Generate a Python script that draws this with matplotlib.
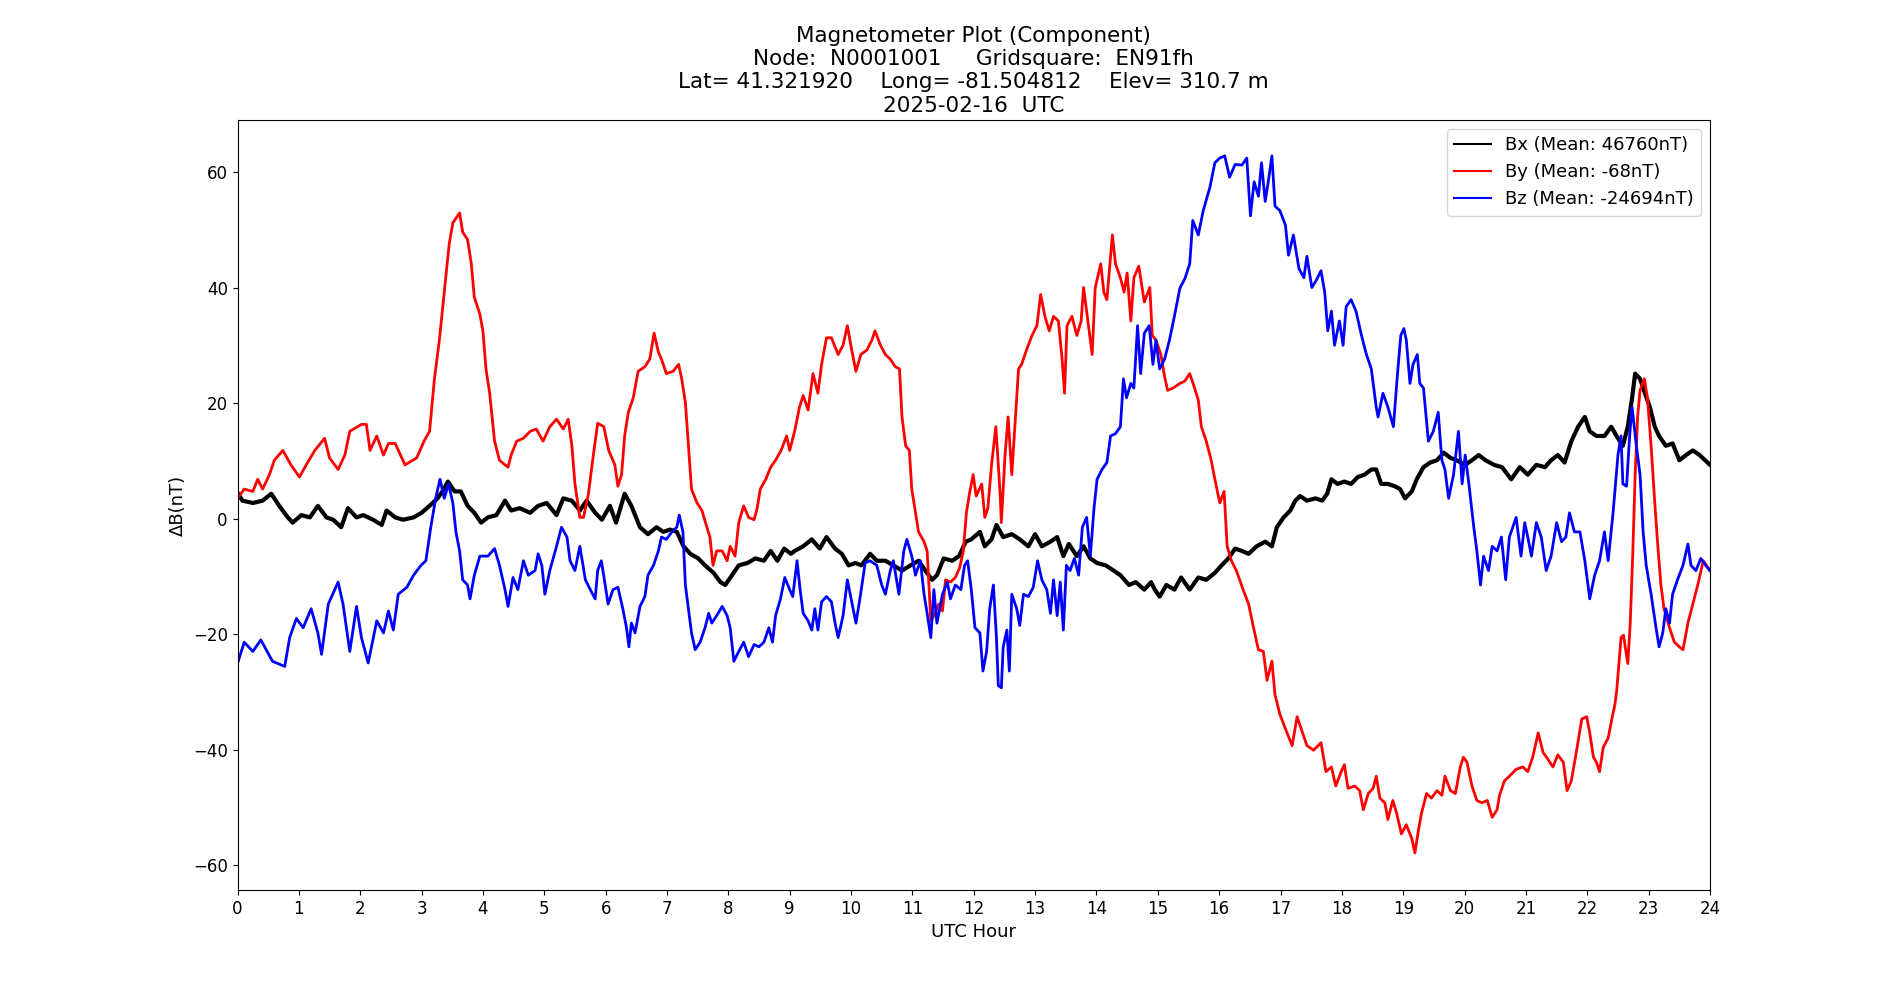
"""Магнитометр: три компоненты поля за сутки (Bx, By, Bz) в нТл относительно среднего."""

import matplotlib

matplotlib.use("Agg")
import matplotlib.pyplot as plt

# Значения: час UTC -> отклонение от среднего, нТл.
BX_HOURS = [0.0, 0.08, 0.25, 0.41, 0.55, 0.68, 0.82, 0.9, 1.04, 1.18, 1.31, 1.45, 1.56, 1.69, 1.8, 1.94,
            2.05, 2.21, 2.35, 2.43, 2.57, 2.7, 2.87, 3.0, 3.13, 3.26, 3.34, 3.43, 3.54, 3.64, 3.75, 3.86,
            3.97, 4.08, 4.22, 4.36, 4.46, 4.6, 4.77, 4.9, 5.04, 5.2, 5.31, 5.45, 5.58, 5.69, 5.83, 5.94,
            6.07, 6.17, 6.31, 6.42, 6.56, 6.69, 6.83, 6.94, 7.05, 7.16, 7.27, 7.38, 7.51, 7.62, 7.76, 7.87,
            7.95, 8.06, 8.17, 8.31, 8.44, 8.58, 8.69, 8.8, 8.91, 9.02, 9.08, 9.22, 9.36, 9.49, 9.6, 9.74,
            9.85, 9.96, 10.07, 10.17, 10.31, 10.42, 10.56, 10.69, 10.83, 10.97, 11.1, 11.21, 11.32, 11.4,
            11.51, 11.65, 11.76, 11.87, 11.96, 12.1, 12.18, 12.29, 12.37, 12.48, 12.62, 12.75, 12.89, 13.0,
            13.11, 13.25, 13.36, 13.46, 13.55, 13.68, 13.79, 13.9, 14.01, 14.15, 14.28, 14.39, 14.53, 14.64,
            14.78, 14.89, 14.95, 15.03, 15.14, 15.27, 15.38, 15.52, 15.66, 15.79, 15.93, 16.04, 16.15, 16.26,
            16.37, 16.48, 16.61, 16.75, 16.86, 16.94, 17.05, 17.16, 17.24, 17.32, 17.43, 17.57, 17.68, 17.76,
            17.83, 17.93, 18.04, 18.15, 18.26, 18.37, 18.48, 18.56, 18.64, 18.75, 18.86, 18.95, 19.03, 19.14,
            19.22, 19.33, 19.44, 19.55, 19.66, 19.77, 19.87, 20.01, 20.12, 20.23, 20.34, 20.48, 20.61, 20.76,
            20.9, 21.03, 21.17, 21.31, 21.41, 21.52, 21.63, 21.74, 21.85, 21.96, 22.04, 22.15, 22.28, 22.39,
            22.5, 22.58, 22.66, 22.73, 22.78, 22.86, 22.94, 23.02, 23.1, 23.17, 23.28, 23.39, 23.5, 23.61,
            23.72, 23.83, 24.0]
BX_VALUES = [4.5, 3.1, 2.7, 3.1, 4.3, 2.2, 0.2, -0.7, 0.6, 0.2, 2.2, 0.2, -0.2, -1.5, 1.8, 0.2,
             0.6, -0.2, -1.1, 1.4, 0.2, -0.2, 0.2, 1.0, 2.2, 3.5, 4.7, 6.4, 4.7, 4.7, 2.2, 1.0,
             -0.7, 0.2, 0.6, 3.1, 1.4, 1.8, 1.0, 2.2, 2.7, 0.6, 3.5, 3.1, 1.4, 3.1, 1.0, -0.2,
             2.2, -0.7, 4.3, 2.2, -1.5, -2.7, -1.5, -2.3, -1.9, -2.3, -4.8, -6.1, -6.9, -8.1, -9.4, -11.0,
             -11.5, -9.8, -8.1, -7.7, -6.9, -7.3, -5.6, -7.3, -5.2, -6.1, -5.6, -4.8, -3.6, -5.2, -3.2, -5.2,
             -6.1, -8.1, -7.7, -8.1, -6.1, -7.3, -7.3, -8.1, -9.0, -8.1, -7.3, -9.0, -10.6, -9.8,
             -6.9, -7.3, -6.5, -4.0, -3.6, -2.3, -4.8, -3.6, -1.1, -3.2, -2.7, -3.6, -4.8, -2.7,
             -4.8, -4.0, -3.2, -6.5, -4.4, -6.5, -4.8, -6.9, -7.7, -8.1, -9.0, -9.8, -11.5, -11.0,
             -12.3, -11.0, -12.3, -13.5, -11.5, -12.3, -10.2, -12.3, -10.2, -10.6, -9.4, -8.1, -6.9, -5.2,
             -5.6, -6.1, -4.8, -4.0, -4.8, -1.5, 0.2, 1.4, 3.1, 3.9, 3.1, 3.5, 3.1, 4.3,
             6.8, 6.0, 6.4, 6.0, 7.2, 7.6, 8.5, 8.5, 6.0, 6.0, 5.6, 5.1, 3.5, 4.7,
             6.8, 8.9, 9.7, 10.1, 11.4, 10.5, 10.1, 9.3, 10.1, 11.0, 10.1, 9.3, 8.9, 6.8,
             8.9, 7.6, 9.3, 8.9, 10.1, 11.0, 9.7, 13.4, 15.9, 17.6, 15.1, 14.3, 14.3, 15.9,
             13.9, 12.6, 15.9, 20.9, 25.1, 24.2, 21.7, 19.3, 15.9, 14.3, 12.6, 13.0, 10.1, 11.0,
             11.8, 11.0, 9.3]

BY_HOURS = [0.0, 0.11, 0.25, 0.33, 0.41, 0.52, 0.6, 0.74, 0.87, 1.01, 1.12, 1.26, 1.42, 1.5, 1.64, 1.75,
            1.83, 2.02, 2.1, 2.16, 2.27, 2.38, 2.46, 2.57, 2.73, 2.92, 3.04, 3.13, 3.21, 3.29, 3.37, 3.45,
            3.51, 3.62, 3.67, 3.75, 3.81, 3.86, 3.95, 4.0, 4.05, 4.11, 4.19, 4.27, 4.36, 4.41, 4.46, 4.55,
            4.66, 4.77, 4.87, 4.98, 5.09, 5.2, 5.31, 5.39, 5.45, 5.5, 5.58, 5.64, 5.72, 5.8, 5.87, 5.97,
            6.05, 6.15, 6.2, 6.26, 6.31, 6.37, 6.45, 6.53, 6.64, 6.72, 6.79, 6.86, 6.91, 6.99, 7.1, 7.19,
            7.24, 7.3, 7.35, 7.4, 7.49, 7.57, 7.65, 7.7, 7.75, 7.81, 7.9, 7.98, 8.03, 8.11, 8.17, 8.25,
            8.33, 8.42, 8.47, 8.52, 8.61, 8.69, 8.77, 8.86, 8.95, 9.0, 9.08, 9.16, 9.22, 9.3, 9.38, 9.46,
            9.52, 9.6, 9.68, 9.79, 9.87, 9.94, 10.01, 10.08, 10.16, 10.26, 10.34, 10.39, 10.48, 10.56,
            10.64, 10.72, 10.79, 10.83, 10.89, 10.95, 10.99, 11.05, 11.1, 11.19, 11.24, 11.3, 11.35, 11.43,
            11.49, 11.54, 11.62, 11.7, 11.77, 11.83, 11.88, 11.93, 11.99, 12.04, 12.13, 12.18, 12.23, 12.29,
            12.36, 12.43, 12.45, 12.51, 12.56, 12.62, 12.67, 12.73, 12.78, 12.86, 12.95, 13.03, 13.09, 13.16,
            13.23, 13.3, 13.38, 13.44, 13.48, 13.52, 13.6, 13.68, 13.75, 13.79, 13.86, 13.93, 13.98, 14.07,
            14.12, 14.17, 14.26, 14.31, 14.39, 14.45, 14.5, 14.56, 14.61, 14.69, 14.78, 14.84, 14.87, 14.91,
            14.97, 15.05, 15.11, 15.16, 15.25, 15.36, 15.44, 15.52, 15.6, 15.66, 15.71, 15.79, 15.87, 15.93,
            16.01, 16.08, 16.13, 16.2, 16.28, 16.39, 16.48, 16.56, 16.64, 16.72, 16.78, 16.86, 16.91, 16.99,
            17.08, 17.19, 17.27, 17.35, 17.43, 17.54, 17.66, 17.74, 17.83, 17.9, 17.99, 18.04, 18.1, 18.21,
            18.29, 18.35, 18.43, 18.51, 18.56, 18.62, 18.7, 18.75, 18.83, 18.89, 18.97, 19.05, 19.14, 19.19,
            19.25, 19.3, 19.38, 19.46, 19.55, 19.63, 19.68, 19.77, 19.85, 19.93, 19.98, 20.04, 20.12, 20.2,
            20.28, 20.37, 20.45, 20.53, 20.57, 20.65, 20.73, 20.84, 20.95, 21.03, 21.11, 21.2, 21.28, 21.36,
            21.44, 21.52, 21.61, 21.67, 21.74, 21.82, 21.91, 21.99, 22.04, 22.1, 22.15, 22.2, 22.26, 22.34,
            22.4, 22.45, 22.48, 22.55, 22.59, 22.63, 22.66, 22.7, 22.74, 22.78, 22.82, 22.86, 22.93, 22.98,
            23.04, 23.1, 23.15, 23.2, 23.25, 23.34, 23.42, 23.5, 23.56, 23.64, 23.72, 23.8, 23.89, 24.0]
BY_VALUES = [3.5, 5.1, 4.7, 6.8, 5.1, 7.6, 10.1, 11.8, 9.3, 7.2, 9.3, 11.8, 13.9, 10.5, 8.5, 11.0,
             15.1, 16.3, 16.3, 11.8, 14.3, 11.0, 13.0, 13.0, 9.3, 10.5, 13.4, 15.1, 24.2, 30.9, 39.2, 47.5,
             51.2, 52.9, 49.6, 48.3, 44.2, 38.3, 35.4, 32.5, 25.9, 21.7, 13.4, 10.1, 9.3, 8.9, 11.0, 13.4,
             13.9, 15.1, 15.5, 13.4, 15.9, 17.2, 15.5, 17.2, 12.6, 6.0, 0.2, 0.2, 4.3, 11.0, 16.5, 15.9,
             11.8, 9.3, 5.6, 7.6, 14.3, 18.4, 20.9, 25.5, 26.3, 27.6, 32.1, 28.8, 27.6, 25.1, 25.5, 26.7,
             24.2, 20.1, 12.6, 5.1, 2.7, 1.4, -1.5, -3.2, -8.1, -5.6, -5.6, -7.3, -4.8, -6.5, -0.7, 2.2,
             0.2, -0.2, 1.8, 5.1, 6.8, 8.9, 10.1, 11.8, 14.3, 11.8, 15.1, 19.3, 21.3, 18.8, 25.1, 21.7,
             26.7, 31.3, 31.3, 28.4, 30.0, 33.4, 29.2, 25.5, 28.4, 29.2, 30.9, 32.5, 30.0, 28.4,
             27.6, 26.3, 25.9, 17.6, 12.6, 11.8, 5.1, 1.0, -2.3, -4.0, -5.6, -17.7, -16.8, -14.8,
             -16.0, -10.6, -11.0, -10.2, -8.5, -5.6, 1.0, 4.3, 7.6, 3.9, 6.0, 0.2, 1.8, 9.3,
             15.9, 4.3, -0.7, 11.0, 17.6, 7.6, 15.9, 25.9, 26.7, 29.2, 31.7, 33.4, 38.8, 35.0,
             32.5, 35.0, 34.2, 27.6, 21.7, 33.4, 35.0, 31.7, 34.2, 40.0, 34.2, 28.4, 40.0, 44.1,
             39.2, 37.9, 49.1, 44.1, 41.7, 39.2, 42.5, 34.2, 41.7, 43.7, 37.5, 39.2, 40.0, 31.7,
             30.9, 28.4, 24.6, 22.2, 22.6, 23.4, 23.8, 25.1, 22.6, 20.5, 15.9, 13.4, 10.1, 6.8,
             2.7, 4.7, -4.8, -7.3, -9.0, -12.3, -14.8, -18.9, -22.7, -23.0, -28.0, -24.7, -30.5, -33.9,
             -36.4, -39.3, -34.3, -36.8, -39.3, -40.1, -38.8, -43.8, -43.0, -46.3, -43.8, -42.6, -46.7, -46.3,
             -47.1, -50.4, -47.6, -46.7, -44.6, -48.4, -49.2, -52.1, -48.8, -50.9, -54.6, -53.0, -55.4, -57.9,
             -53.8, -50.9, -47.6, -48.4, -47.1, -47.9, -44.6, -47.1, -47.6, -43.0, -41.3, -42.2, -46.3, -48.8,
             -49.2, -48.8, -51.7, -50.4, -47.9, -45.4, -44.6, -43.4, -43.0, -43.8, -41.3, -37.1, -40.5, -41.7,
             -43.0, -40.9, -42.2, -47.1, -45.4, -40.5, -34.7, -34.3, -37.1, -41.3, -42.2, -43.8, -39.6, -38.0,
             -34.7, -32.2, -29.7, -20.6, -20.2, -23.0, -25.1, -18.1, -6.5, 7.6, 17.6, 22.2, 24.2, 20.9,
             12.6, 2.7, -4.8, -11.5, -15.6, -18.9, -21.4, -22.2, -22.7, -18.1, -14.8, -11.5, -7.3, -9.0]

BZ_HOURS = [0.0, 0.11, 0.25, 0.38, 0.57, 0.77, 0.85, 0.96, 1.07, 1.2, 1.31, 1.37, 1.48, 1.64, 1.72, 1.83,
            1.94, 2.02, 2.13, 2.27, 2.38, 2.46, 2.54, 2.62, 2.76, 2.87, 2.99, 3.07, 3.15, 3.23, 3.3, 3.37,
            3.44, 3.51, 3.56, 3.62, 3.67, 3.75, 3.79, 3.86, 3.95, 4.08, 4.19, 4.27, 4.36, 4.41, 4.49, 4.57,
            4.66, 4.74, 4.85, 4.9, 4.96, 5.01, 5.09, 5.2, 5.28, 5.37, 5.42, 5.5, 5.58, 5.67, 5.75, 5.83,
            5.87, 5.93, 5.98, 6.04, 6.12, 6.2, 6.28, 6.34, 6.38, 6.42, 6.48, 6.56, 6.64, 6.69, 6.78, 6.86,
            6.91, 6.99, 7.08, 7.16, 7.2, 7.26, 7.3, 7.35, 7.4, 7.46, 7.54, 7.62, 7.68, 7.73, 7.81, 7.9,
            7.98, 8.03, 8.09, 8.17, 8.25, 8.33, 8.42, 8.5, 8.58, 8.66, 8.72, 8.77, 8.85, 8.92, 9.0, 9.05,
            9.12, 9.17, 9.22, 9.3, 9.36, 9.41, 9.46, 9.52, 9.6, 9.68, 9.74, 9.79, 9.87, 9.94, 10.01, 10.08,
            10.15, 10.23, 10.31, 10.42, 10.5, 10.56, 10.64, 10.69, 10.78, 10.86, 10.91, 10.99, 11.05, 11.13,
            11.19, 11.24, 11.3, 11.35, 11.4, 11.49, 11.57, 11.62, 11.7, 11.79, 11.85, 11.9, 11.96, 12.02,
            12.1, 12.15, 12.21, 12.26, 12.32, 12.37, 12.4, 12.45, 12.48, 12.54, 12.58, 12.62, 12.7, 12.75,
            12.81, 12.89, 12.97, 13.04, 13.11, 13.19, 13.25, 13.3, 13.36, 13.41, 13.46, 13.51, 13.57, 13.64,
            13.71, 13.77, 13.84, 13.9, 13.96, 14.01, 14.09, 14.17, 14.23, 14.31, 14.39, 14.44, 14.49, 14.56,
            14.61, 14.67, 14.72, 14.78, 14.86, 14.92, 14.97, 15.03, 15.11, 15.19, 15.27, 15.36, 15.44, 15.52,
            15.57, 15.66, 15.74, 15.85, 15.93, 16.01, 16.09, 16.17, 16.26, 16.37, 16.45, 16.51, 16.57, 16.64,
            16.69, 16.75, 16.8, 16.86, 16.91, 16.99, 17.08, 17.13, 17.21, 17.3, 17.38, 17.43, 17.51, 17.58,
            17.66, 17.72, 17.77, 17.83, 17.88, 17.96, 18.02, 18.07, 18.15, 18.23, 18.32, 18.4, 18.48, 18.56,
            18.59, 18.67, 18.75, 18.84, 18.9, 18.96, 19.01, 19.05, 19.11, 19.16, 19.23, 19.27, 19.33, 19.41,
            19.49, 19.57, 19.63, 19.68, 19.74, 19.82, 19.9, 19.96, 20.01, 20.07, 20.15, 20.2, 20.26, 20.31,
            20.39, 20.45, 20.53, 20.6, 20.67, 20.73, 20.84, 20.92, 20.98, 21.03, 21.09, 21.17, 21.25, 21.33,
            21.41, 21.5, 21.58, 21.65, 21.71, 21.79, 21.88, 21.96, 22.04, 22.12, 22.2, 22.28, 22.34, 22.42,
            22.5, 22.55, 22.58, 22.64, 22.69, 22.73, 22.8, 22.86, 22.91, 22.96, 23.04, 23.12, 23.17, 23.23,
            23.28, 23.34, 23.39, 23.47, 23.56, 23.64, 23.69, 23.77, 23.85, 23.93, 24.0]
BZ_VALUES = [-25.1, -21.4, -23.0, -21.0, -24.7, -25.6, -20.6, -17.3, -18.9, -15.6, -19.8, -23.5, -14.8, -11.0, -14.8, -23.0,
             -15.2, -20.6, -25.0, -17.7, -19.8, -16.0, -19.3, -13.1, -11.9, -9.8, -8.1, -7.3, -1.5, 3.5, 6.8, 3.5,
             6.0, 2.7, -2.3, -5.6, -10.6, -11.5, -13.9, -9.8, -6.5, -6.5, -5.2, -8.1, -12.3, -15.2, -10.2, -12.3,
             -7.3, -9.8, -9.0, -6.1, -8.1, -13.1, -9.0, -4.8, -1.5, -3.2, -7.3, -9.0, -4.8, -10.6, -12.3, -13.9,
             -9.0, -7.3, -10.6, -14.8, -12.3, -11.9, -15.6, -18.9, -22.2, -18.1, -19.8, -15.2, -13.5, -9.8, -8.1, -5.6,
             -3.2, -3.6, -2.3, -1.5, 0.6, -2.3, -11.5, -15.6, -19.8, -22.7, -21.4, -18.9, -16.4, -18.1, -16.8, -15.2,
             -16.8, -18.9, -24.7, -23.0, -21.4, -23.9, -21.8, -22.2, -21.4, -18.9, -21.4, -16.8, -13.9, -10.2, -12.3, -13.5,
             -7.3, -12.3, -16.4, -17.7, -19.3, -15.6, -19.3, -14.4, -13.5, -14.4, -18.1, -20.6, -16.8, -10.6, -14.4, -18.1,
             -13.5, -7.7, -7.3, -8.1, -11.5, -13.1, -9.0, -7.3, -13.1, -5.6, -3.6, -6.5, -9.8, -7.3,
             -13.1, -16.4, -20.6, -12.3, -18.1, -13.1, -11.0, -13.9, -11.5, -12.3, -8.1, -7.3, -12.3, -18.9,
             -19.8, -26.4, -23.0, -15.6, -11.5, -20.6, -28.9, -29.3, -22.2, -19.3, -26.4, -13.1, -15.6, -18.5,
             -13.1, -13.5, -11.9, -7.3, -10.6, -12.3, -16.4, -10.6, -16.8, -11.0, -19.3, -8.1, -9.0, -6.9,
             -9.8, -1.5, 0.2, -6.5, 1.8, 6.8, 8.5, 9.7, 14.3, 14.7, 15.9, 24.2, 20.9, 23.4,
             22.6, 33.4, 25.1, 32.1, 33.4, 26.7, 30.9, 25.9, 27.6, 30.9, 35.0, 39.9, 41.5, 44.1,
             51.6, 49.1, 53.3, 57.4, 61.6, 62.4, 62.8, 59.1, 61.3, 61.2, 62.4, 52.4, 58.3, 55.8,
             61.6, 54.9, 58.3, 62.8, 54.1, 53.3, 50.8, 45.6, 49.1, 43.3, 41.7, 45.4, 40.0, 41.2,
             42.9, 39.2, 32.5, 35.9, 30.0, 34.2, 30.0, 36.7, 37.9, 35.9, 31.7, 28.4, 25.9, 19.3,
             17.6, 21.7, 19.3, 15.9, 24.2, 31.7, 32.9, 30.9, 23.4, 26.7, 28.4, 23.4, 22.6, 13.4,
             15.1, 18.4, 10.1, 8.5, 3.5, 7.6, 15.1, 6.0, 11.0, 6.0, -1.5, -5.6, -11.5, -6.5,
             -9.0, -4.8, -5.6, -3.2, -10.6, -3.2, 0.2, -6.5, -0.7, -3.2, -6.5, -0.7, -3.2, -9.0,
             -6.5, -0.7, -4.0, -3.2, 1.0, -2.3, -2.3, -7.3, -13.9, -9.8, -7.3, -2.3, -7.3, 1.0,
             11.0, 14.3, 6.0, 5.6, 14.3, 19.3, 12.6, 7.6, -2.3, -8.1, -13.1, -18.9, -22.2, -19.8,
             -15.6, -18.1, -13.1, -10.6, -8.1, -4.4, -8.1, -9.0, -6.9, -8.1, -9.0]

SERIES = [
    ("Bx (Mean: 46760nT)", BX_HOURS, BX_VALUES, "black", 3.0),
    ("By (Mean: -68nT)", BY_HOURS, BY_VALUES, "red", 2.0),
    ("Bz (Mean: -24694nT)", BZ_HOURS, BZ_VALUES, "blue", 2.0),
]

TITLE = ("Magnetometer Plot (Component)\n"
         "Node:  N0001001     Gridsquare:  EN91fh\n"
         "Lat= 41.321920    Long= -81.504812    Elev= 310.7 m\n"
         "2025-02-16  UTC")


def main() -> None:
    fig, ax = plt.subplots(figsize=(19, 10), dpi=100)

    for label, hours, values, color, lw in SERIES:
        ax.plot(hours, values, color=color, linewidth=lw, label=label)

    ax.set_xlim(0, 24)
    ax.set_ylim(-64.3, 69)
    ax.set_xticks(range(0, 25))
    ax.tick_params(labelsize=12)

    ax.set_title(TITLE, fontsize=15.5)
    ax.set_xlabel("UTC Hour", fontsize=13)
    ax.set_ylabel("ΔB(nT)", fontsize=13)

    # В легенде линии тоньше, чем на графике
    leg = ax.legend(loc="upper right", fontsize=13)
    for line in leg.get_lines():
        line.set_linewidth(1.5)

    fig.savefig("out.png", dpi=100)


if __name__ == "__main__":
    main()
